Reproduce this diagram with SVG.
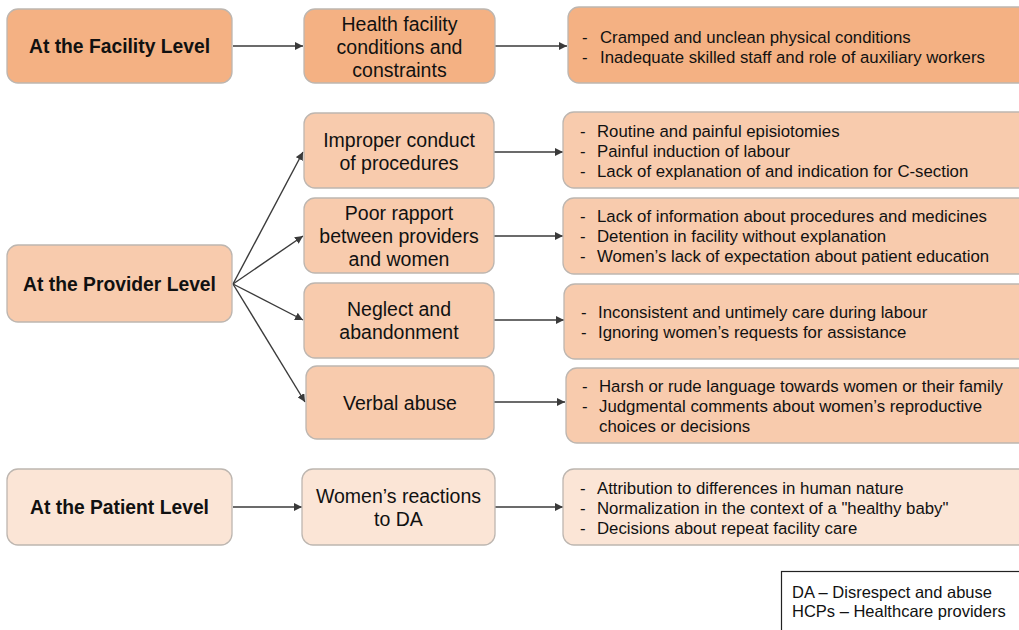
<svg xmlns="http://www.w3.org/2000/svg" width="1019" height="630" viewBox="0 0 1019 630">
<style>
.box{stroke:#BDB6B0;stroke-width:1.3}
.l1{fill:#F4B183}
.l2{fill:#F8CBAD}
.l3{fill:#FBE5D6}
text{font-family:"Liberation Sans",Arial,Helvetica,sans-serif;fill:#111}
.hd{font-size:19.3px;font-weight:bold;text-anchor:middle}
.md{font-size:19.5px;text-anchor:middle}
.ls{font-size:16.8px}
.lg{font-size:16.5px}
.cn{stroke:#3A3A3A;stroke-width:1.4;fill:none;marker-end:url(#ah)}
</style>
<defs>
<marker id="ah" viewBox="0 0 10 10" refX="10" refY="5" markerWidth="8" markerHeight="8" markerUnits="userSpaceOnUse" orient="auto">
<path d="M0,0 L10,5 L0,10 z" fill="#3A3A3A"/>
</marker>
</defs>
<rect width="1019" height="630" fill="#fff"/>

<g id="connectors">
<line class="cn" x1="233" y1="46" x2="303" y2="46"/>
<line class="cn" x1="495" y1="46" x2="567" y2="46"/>
<line class="cn" x1="233" y1="284" x2="303" y2="152"/>
<line class="cn" x1="233" y1="284" x2="303" y2="236"/>
<line class="cn" x1="233" y1="284" x2="303" y2="320"/>
<line class="cn" x1="233" y1="284" x2="305" y2="402"/>
<line class="cn" x1="494" y1="152" x2="563" y2="152"/>
<line class="cn" x1="494" y1="236" x2="563" y2="236"/>
<line class="cn" x1="494" y1="320" x2="564" y2="320"/>
<line class="cn" x1="494" y1="402" x2="565" y2="402"/>
<line class="cn" x1="233" y1="507" x2="302" y2="507"/>
<line class="cn" x1="495" y1="507" x2="563" y2="507"/>
</g>

<g id="facility-level">
<rect class="box l1" x="7" y="9" width="225" height="74" rx="11"/>
<text class="hd" x="119.5" y="53">At the Facility Level</text>
</g>
<g id="facility-conditions">
<rect class="box l1" x="304" y="9" width="191" height="74" rx="11"/>
<text class="md" x="399.5" y="31">Health facility</text>
<text class="md" x="399.5" y="54">conditions and</text>
<text class="md" x="399.5" y="77">constraints</text>
</g>
<g id="facility-list">
<rect class="box l1" x="568" y="7" width="470" height="76" rx="11"/>
<text class="ls" x="582" y="43">-</text><text class="ls" x="600" y="43">Cramped and unclean physical conditions</text>
<text class="ls" x="582" y="63">-</text><text class="ls" x="600" y="63">Inadequate skilled staff and role of auxiliary workers</text>
</g>

<g id="provider-level">
<rect class="box l2" x="7" y="245" width="225" height="77" rx="11"/>
<text class="hd" x="119.5" y="291">At the Provider Level</text>
</g>
<g id="improper-conduct">
<rect class="box l2" x="304" y="113" width="190" height="75" rx="11"/>
<text class="md" x="399" y="147">Improper conduct</text>
<text class="md" x="399" y="170">of procedures</text>
</g>
<g id="poor-rapport">
<rect class="box l2" x="304" y="198" width="190" height="75" rx="11"/>
<text class="md" x="399" y="220">Poor rapport</text>
<text class="md" x="399" y="243">between providers</text>
<text class="md" x="399" y="266">and women</text>
</g>
<g id="neglect">
<rect class="box l2" x="304" y="283" width="190" height="75" rx="11"/>
<text class="md" x="399" y="315.5">Neglect and</text>
<text class="md" x="399" y="338.5">abandonment</text>
</g>
<g id="verbal-abuse">
<rect class="box l2" x="306" y="366" width="188" height="73" rx="11"/>
<text class="md" x="400" y="410">Verbal abuse</text>
</g>
<g id="improper-list">
<rect class="box l2" x="563" y="112" width="475" height="76" rx="11"/>
<text class="ls" x="580" y="137">-</text><text class="ls" x="597" y="137">Routine and painful episiotomies</text>
<text class="ls" x="580" y="157">-</text><text class="ls" x="597" y="157">Painful induction of labour</text>
<text class="ls" x="580" y="177">-</text><text class="ls" x="597" y="177">Lack of explanation of and indication for C-section</text>
</g>
<g id="rapport-list">
<rect class="box l2" x="563" y="198" width="475" height="76" rx="11"/>
<text class="ls" x="580" y="222">-</text><text class="ls" x="597" y="222">Lack of information about procedures and medicines</text>
<text class="ls" x="580" y="242">-</text><text class="ls" x="597" y="242">Detention in facility without explanation</text>
<text class="ls" x="580" y="262">-</text><text class="ls" x="597" y="262">Women’s lack of expectation about patient education</text>
</g>
<g id="neglect-list">
<rect class="box l2" x="564" y="284" width="474" height="75" rx="11"/>
<text class="ls" x="581" y="317.5">-</text><text class="ls" x="598" y="317.5">Inconsistent and untimely care during labour</text>
<text class="ls" x="581" y="337.5">-</text><text class="ls" x="598" y="337.5">Ignoring women’s requests for assistance</text>
</g>
<g id="verbal-list">
<rect class="box l2" x="566" y="368" width="472" height="75" rx="11"/>
<text class="ls" x="582" y="392">-</text><text class="ls" x="599" y="392">Harsh or rude language towards women or their family</text>
<text class="ls" x="582" y="412">-</text><text class="ls" x="599" y="412">Judgmental comments about women’s reproductive</text>
<text class="ls" x="599" y="432">choices or decisions</text>
</g>

<g id="patient-level">
<rect class="box l3" x="7" y="469" width="225" height="76" rx="11"/>
<text class="hd" x="119.5" y="514">At the Patient Level</text>
</g>
<g id="womens-reactions">
<rect class="box l3" x="302" y="469" width="193" height="76" rx="11"/>
<text class="md" x="398.5" y="503">Women’s reactions</text>
<text class="md" x="398.5" y="526">to DA</text>
</g>
<g id="patient-list">
<rect class="box l3" x="563" y="469" width="475" height="76" rx="11"/>
<text class="ls" x="580" y="494">-</text><text class="ls" x="597" y="494">Attribution to differences in human nature</text>
<text class="ls" x="580" y="514">-</text><text class="ls" x="597" y="514">Normalization in the context of a "healthy baby"</text>
<text class="ls" x="580" y="534">-</text><text class="ls" x="597" y="534">Decisions about repeat facility care</text>
</g>

<g id="legend">
<rect x="781.5" y="571.5" width="300" height="100" fill="#fff" stroke="#222" stroke-width="1.2"/>
<text class="lg" x="792" y="598">DA – Disrespect and abuse</text>
<text class="lg" x="792" y="617">HCPs – Healthcare providers</text>
</g>
</svg>
